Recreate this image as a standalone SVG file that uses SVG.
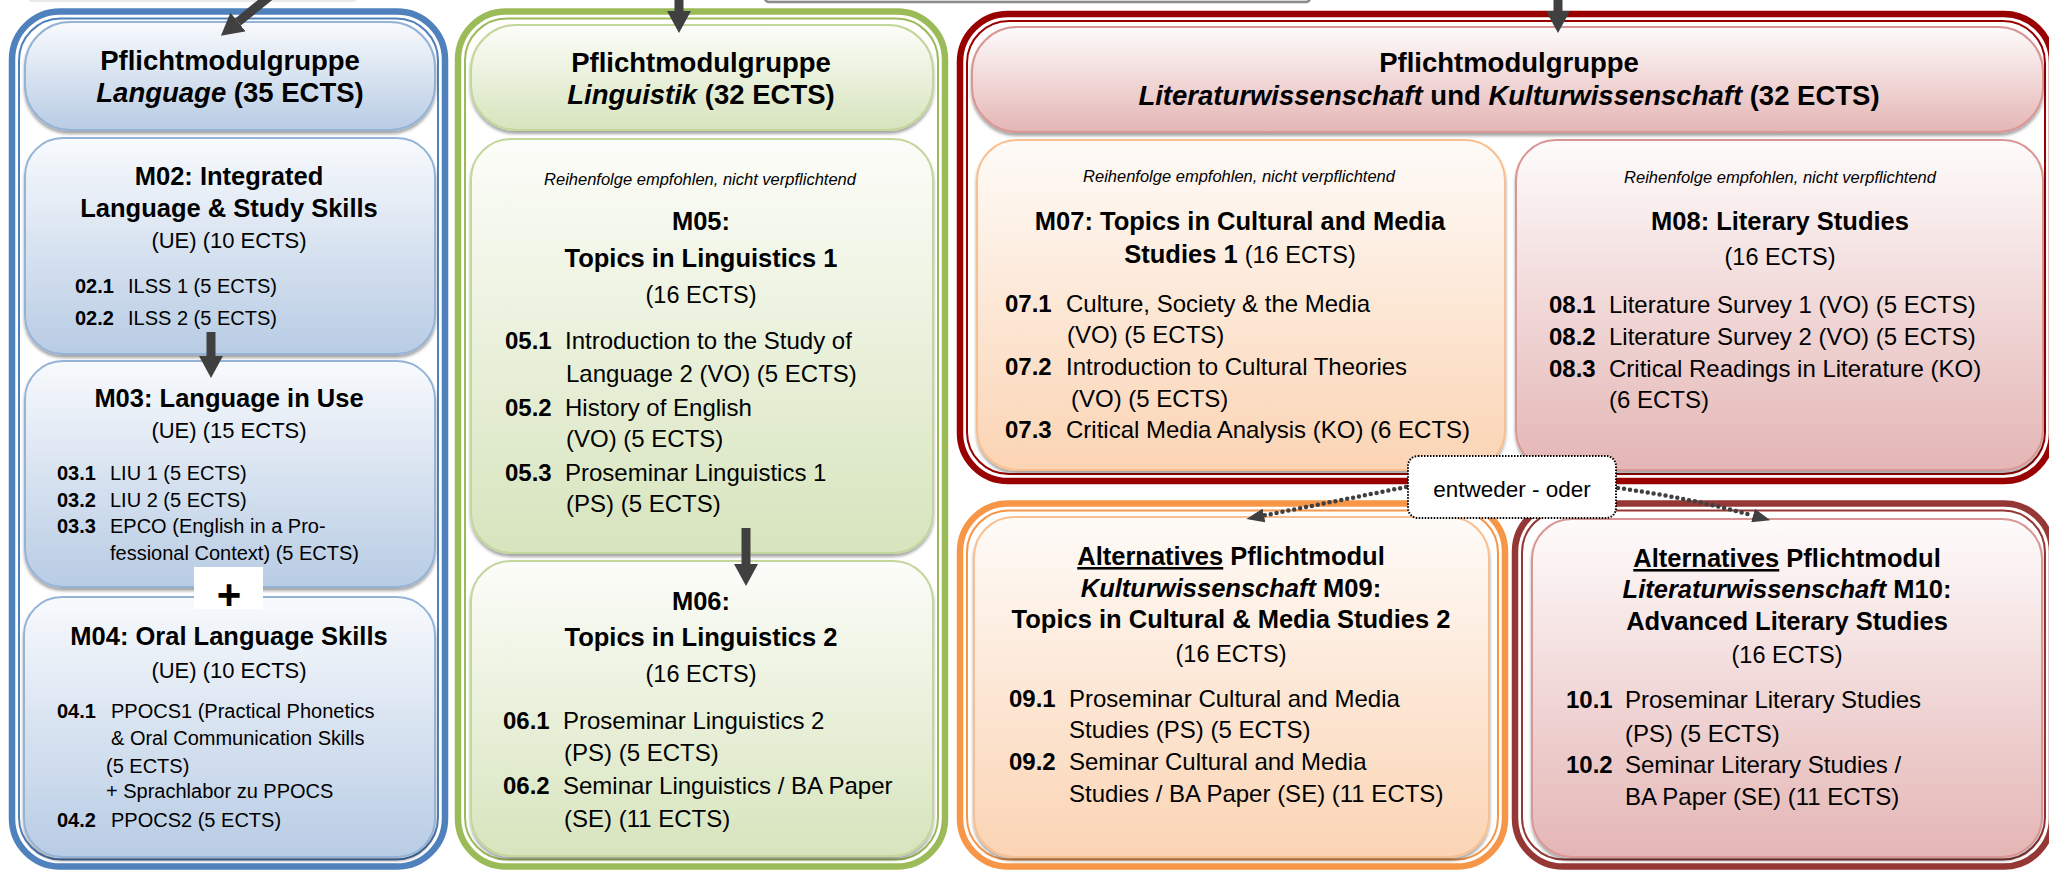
<svg xmlns="http://www.w3.org/2000/svg" width="2049" height="872" viewBox="0 0 2049 872">
<defs>
<style>
.t{font-family:"Liberation Sans",Arial,sans-serif;fill:#000}
.h{font-size:27.5px;font-weight:bold;text-anchor:middle}
.ti{font-size:25.5px;font-weight:bold;text-anchor:middle}
.sub{font-size:23.5px;text-anchor:middle}
.it{font-size:24px}
.bsub{font-size:22px;text-anchor:middle}
.bit{font-size:20px}
.note{font-size:16.5px;font-style:italic;text-anchor:middle}
.b{font-weight:bold}
.i{font-style:italic}
.n{font-weight:normal}
.sh{filter:url(#sh)}
.bx-b{fill:url(#gB);stroke:#95b3d7;stroke-width:2}
.bx-g{fill:url(#gG);stroke:#c3d69b;stroke-width:2}
.bx-o{fill:url(#gO);stroke:#fabf8f;stroke-width:2}
.bx-p{fill:url(#gP);stroke:#d99694;stroke-width:2}
.thick{fill:none;stroke-width:6.5}
.thin{fill:none;stroke-width:2}
.arr{stroke:#404040;stroke-width:9;fill:none}
.dot{stroke:#404040;stroke-width:4.5;stroke-linecap:round;stroke-dasharray:0 6;fill:none}
</style>
<linearGradient id="gB" x1="0" y1="0" x2="0" y2="1"><stop offset="0" stop-color="#f8fafd"/><stop offset="1" stop-color="#b8cce4"/></linearGradient>
<linearGradient id="gG" x1="0" y1="0" x2="0" y2="1"><stop offset="0" stop-color="#fcfdf9"/><stop offset="1" stop-color="#d7e4bd"/></linearGradient>
<linearGradient id="gO" x1="0" y1="0" x2="0" y2="1"><stop offset="0" stop-color="#fefbf8"/><stop offset="1" stop-color="#fbd4b4"/></linearGradient>
<linearGradient id="gP" x1="0" y1="0" x2="0" y2="1"><stop offset="0" stop-color="#fefbfb"/><stop offset="1" stop-color="#e4b6b5"/></linearGradient>
<filter id="sh" x="-5%" y="-5%" width="110%" height="115%"><feDropShadow dx="0" dy="3" stdDeviation="1.5" flood-color="#000" flood-opacity="0.35"/></filter>
<marker id="ah" viewBox="0 0 22 24" refX="0" refY="12" markerWidth="22" markerHeight="24" markerUnits="userSpaceOnUse" orient="auto"><path d="M0,0 L22,12 L0,24 z" fill="#404040"/></marker>
<marker id="dh" viewBox="0 0 18 14" refX="0" refY="7" markerWidth="18" markerHeight="14" markerUnits="userSpaceOnUse" orient="auto"><path d="M0,0 L18,7 L0,14 z" fill="#404040"/></marker>
</defs>

<rect width="2049" height="872" fill="#fff"/>

<!-- partially visible boxes at top edge -->
<g id="top-boxes">
<rect x="29" y="-20" width="327" height="21" rx="3" fill="#fafafa" stroke="#e3e3e3" stroke-width="1.5"/>
<rect x="765" y="-30" width="545" height="32" rx="4" fill="#f2f2f2" stroke="#8c8c8c" stroke-width="2.5"/>
</g>

<!-- group frames -->
<g id="frame-language">
<rect class="thick" x="12" y="11.5" width="433" height="855" rx="48" stroke="#4f81bd"/>
<rect class="thin" x="19" y="18.5" width="419" height="841" rx="42" stroke="#4f81bd"/>
</g>
<g id="frame-linguistik">
<rect class="thick" x="458" y="11.5" width="487" height="855" rx="48" stroke="#9bbb59"/>
<rect class="thin" x="465" y="18.5" width="473" height="841" rx="42" stroke="#9bbb59"/>
</g>
<g id="frame-litkult">
<rect class="thick" x="960" y="14" width="1092" height="467" rx="48" stroke="#990000"/>
<rect class="thin" x="967" y="21" width="1078" height="453" rx="42" stroke="#990000"/>
</g>
<g id="frame-m09">
<rect class="thick" x="960" y="503.5" width="545" height="363" rx="48" stroke="#f79646"/>
<rect class="thin" x="967" y="510.5" width="531" height="349" rx="42" stroke="#f79646"/>
</g>
<g id="frame-m10">
<rect class="thick" x="1515" y="503.5" width="537" height="363" rx="48" stroke="#953735"/>
<rect class="thin" x="1522" y="510.5" width="523" height="349" rx="42" stroke="#953735"/>
</g>

<!-- Language column -->
<g id="hdr-language">
<rect class="bx-b sh" x="25" y="22" width="410" height="108" rx="45"/>
<text class="t h" x="230" y="70">Pflichtmodulgruppe</text>
<text class="t h" x="230" y="102"><tspan class="i">Language</tspan> (35 ECTS)</text>
</g>
<g id="m02">
<rect class="bx-b sh" x="25" y="138" width="410" height="216" rx="38"/>
<text class="t ti" x="229" y="185">M02: Integrated</text>
<text class="t ti" x="229" y="217">Language &amp; Study Skills</text>
<text class="t bsub" x="229" y="248">(UE) (10 ECTS)</text>
<text class="t bit b" x="75" y="293">02.1</text><text class="t bit" x="128" y="293">ILSS 1 (5 ECTS)</text>
<text class="t bit b" x="75" y="325">02.2</text><text class="t bit" x="128" y="325">ILSS 2 (5 ECTS)</text>
</g>
<g id="m03">
<rect class="bx-b sh" x="25" y="361" width="410" height="226" rx="38"/>
<text class="t ti" x="229" y="407">M03: Language in Use</text>
<text class="t bsub" x="229" y="438">(UE) (15 ECTS)</text>
<text class="t bit b" x="57" y="480">03.1</text><text class="t bit" x="110" y="480">LIU 1 (5 ECTS)</text>
<text class="t bit b" x="57" y="507">03.2</text><text class="t bit" x="110" y="507">LIU 2 (5 ECTS)</text>
<text class="t bit b" x="57" y="533">03.3</text><text class="t bit" x="110" y="533">EPCO (English in a Pro-</text>
<text class="t bit" x="110" y="560">fessional Context) (5 ECTS)</text>
</g>
<g id="m04">
<rect class="bx-b sh" x="24" y="597" width="411" height="260" rx="38"/>
<text class="t ti" x="229" y="645">M04: Oral Language Skills</text>
<text class="t bsub" x="229" y="678">(UE) (10 ECTS)</text>
<text class="t bit b" x="57" y="718">04.1</text><text class="t bit" x="111" y="718">PPOCS1 (Practical Phonetics</text>
<text class="t bit" x="111" y="745">&amp; Oral Communication Skills</text>
<text class="t bit" x="106" y="773">(5 ECTS)</text>
<text class="t bit" x="106" y="798">+ Sprachlabor zu PPOCS</text>
<text class="t bit b" x="57" y="827">04.2</text><text class="t bit" x="111" y="827">PPOCS2 (5 ECTS)</text>
</g>
<g id="plus">
<rect x="194" y="567" width="69" height="42" fill="#fff"/>
<text class="t" x="229" y="609" font-size="42" font-weight="bold" text-anchor="middle">+</text>
</g>

<!-- Linguistik column -->
<g id="hdr-linguistik">
<rect class="bx-g sh" x="471" y="25" width="462" height="105" rx="45"/>
<text class="t h" x="701" y="72">Pflichtmodulgruppe</text>
<text class="t h" x="701" y="104"><tspan class="i">Linguistik</tspan> (32 ECTS)</text>
</g>
<g id="m05">
<rect class="bx-g sh" x="471" y="139" width="462" height="414" rx="40"/>
<text class="t note" x="700" y="185">Reihenfolge empfohlen, nicht verpflichtend</text>
<text class="t ti" x="701" y="230">M05:</text>
<text class="t ti" x="701" y="267">Topics in Linguistics 1</text>
<text class="t sub" x="701" y="303">(16 ECTS)</text>
<text class="t it b" x="505" y="349">05.1</text><text class="t it" x="565" y="349">Introduction to the Study of</text>
<text class="t it" x="566" y="382">Language 2 (VO) (5 ECTS)</text>
<text class="t it b" x="505" y="416">05.2</text><text class="t it" x="565" y="416">History of English</text>
<text class="t it" x="566" y="447">(VO) (5 ECTS)</text>
<text class="t it b" x="505" y="481">05.3</text><text class="t it" x="565" y="481">Proseminar Linguistics 1</text>
<text class="t it" x="566" y="512">(PS) (5 ECTS)</text>
</g>
<g id="m06">
<rect class="bx-g sh" x="471" y="561" width="462" height="295" rx="40"/>
<text class="t ti" x="701" y="610">M06:</text>
<text class="t ti" x="701" y="646">Topics in Linguistics 2</text>
<text class="t sub" x="701" y="682">(16 ECTS)</text>
<text class="t it b" x="503" y="729">06.1</text><text class="t it" x="563" y="729">Proseminar Linguistics 2</text>
<text class="t it" x="564" y="761">(PS) (5 ECTS)</text>
<text class="t it b" x="503" y="794">06.2</text><text class="t it" x="563" y="794">Seminar Linguistics / BA Paper</text>
<text class="t it" x="564" y="827">(SE) (11 ECTS)</text>
</g>

<!-- Literatur/Kultur column -->
<g id="hdr-litkult">
<rect class="bx-p sh" x="972" y="27" width="1071" height="105" rx="45"/>
<text class="t h" x="1509" y="72">Pflichtmodulgruppe</text>
<text class="t h" x="1509" y="105"><tspan class="i">Literaturwissenschaft</tspan> und <tspan class="i">Kulturwissenschaft</tspan> (32 ECTS)</text>
</g>
<g id="m07">
<rect class="bx-o sh" x="977" y="140" width="528" height="330" rx="40"/>
<text class="t note" x="1239" y="182">Reihenfolge empfohlen, nicht verpflichtend</text>
<text class="t ti" x="1240" y="230">M07: Topics in Cultural and Media</text>
<text class="t ti" x="1240" y="263">Studies 1 <tspan class="n" font-size="23.5">(16 ECTS)</tspan></text>
<text class="t it b" x="1005" y="312">07.1</text><text class="t it" x="1066" y="312">Culture, Society &amp; the Media</text>
<text class="t it" x="1067" y="343">(VO) (5 ECTS)</text>
<text class="t it b" x="1005" y="375">07.2</text><text class="t it" x="1066" y="375">Introduction to Cultural Theories</text>
<text class="t it" x="1071" y="407">(VO) (5 ECTS)</text>
<text class="t it b" x="1005" y="438">07.3</text><text class="t it" x="1066" y="438">Critical Media Analysis (KO) (6 ECTS)</text>
</g>
<g id="m08">
<rect class="bx-p sh" x="1516" y="140" width="527" height="330" rx="40"/>
<text class="t note" x="1780" y="183">Reihenfolge empfohlen, nicht verpflichtend</text>
<text class="t ti" x="1780" y="230">M08: Literary Studies</text>
<text class="t sub" x="1780" y="265">(16 ECTS)</text>
<text class="t it b" x="1549" y="313">08.1</text><text class="t it" x="1609" y="313">Literature Survey 1 (VO) (5 ECTS)</text>
<text class="t it b" x="1549" y="345">08.2</text><text class="t it" x="1609" y="345">Literature Survey 2 (VO) (5 ECTS)</text>
<text class="t it b" x="1549" y="377">08.3</text><text class="t it" x="1609" y="377">Critical Readings in Literature (KO)</text>
<text class="t it" x="1609" y="408">(6 ECTS)</text>
</g>
<g id="m09">
<rect class="bx-o sh" x="974" y="517" width="515" height="340" rx="40"/>
<text class="t ti" x="1231" y="565"><tspan text-decoration="underline">Alternatives</tspan> Pflichtmodul</text>
<text class="t ti" x="1231" y="597"><tspan class="i">Kulturwissenschaft</tspan> M09:</text>
<text class="t ti" x="1231" y="628">Topics in Cultural &amp; Media Studies 2</text>
<text class="t sub" x="1231" y="662">(16 ECTS)</text>
<text class="t it b" x="1009" y="707">09.1</text><text class="t it" x="1069" y="707">Proseminar Cultural and Media</text>
<text class="t it" x="1069" y="738">Studies (PS) (5 ECTS)</text>
<text class="t it b" x="1009" y="770">09.2</text><text class="t it" x="1069" y="770">Seminar Cultural and Media</text>
<text class="t it" x="1069" y="802">Studies / BA Paper (SE) (11 ECTS)</text>
</g>
<g id="m10">
<rect class="bx-p sh" x="1532" y="519" width="510" height="338" rx="40"/>
<text class="t ti" x="1787" y="567"><tspan text-decoration="underline">Alternatives</tspan> Pflichtmodul</text>
<text class="t ti" x="1787" y="598"><tspan class="i">Literaturwissenschaft</tspan> M10:</text>
<text class="t ti" x="1787" y="630">Advanced Literary Studies</text>
<text class="t sub" x="1787" y="663">(16 ECTS)</text>
<text class="t it b" x="1566" y="708">10.1</text><text class="t it" x="1625" y="708">Proseminar Literary Studies</text>
<text class="t it" x="1625" y="742">(PS) (5 ECTS)</text>
<text class="t it b" x="1566" y="773">10.2</text><text class="t it" x="1625" y="773">Seminar Literary Studies /</text>
<text class="t it" x="1625" y="805">BA Paper (SE) (11 ECTS)</text>
</g>

<!-- connectors -->
<g id="connectors">
<path class="arr" d="M270,-4 L238,22" marker-end="url(#ah)"/>
<path class="arr" d="M679,-6 L679,11" marker-end="url(#ah)"/>
<path class="arr" d="M1558,-6 L1558,11" marker-end="url(#ah)"/>
<path class="arr" d="M211,332 L211,356" marker-end="url(#ah)"/>
<path class="arr" d="M746,528 L746,564" marker-end="url(#ah)"/>
<path class="dot" d="M1406,487 L1264,515.5" marker-end="url(#dh)"/>
<path class="dot" d="M1618,488 Q1690,498 1753,515.5" marker-end="url(#dh)"/>
</g>

<g id="entweder-oder">
<rect x="1408" y="456" width="208" height="62" rx="10" fill="#fff" stroke="#000" stroke-width="2" stroke-dasharray="1.5 1.5"/>
<text class="t" x="1512" y="497" font-size="22.5" text-anchor="middle">entweder - oder</text>
</g>
</svg>
